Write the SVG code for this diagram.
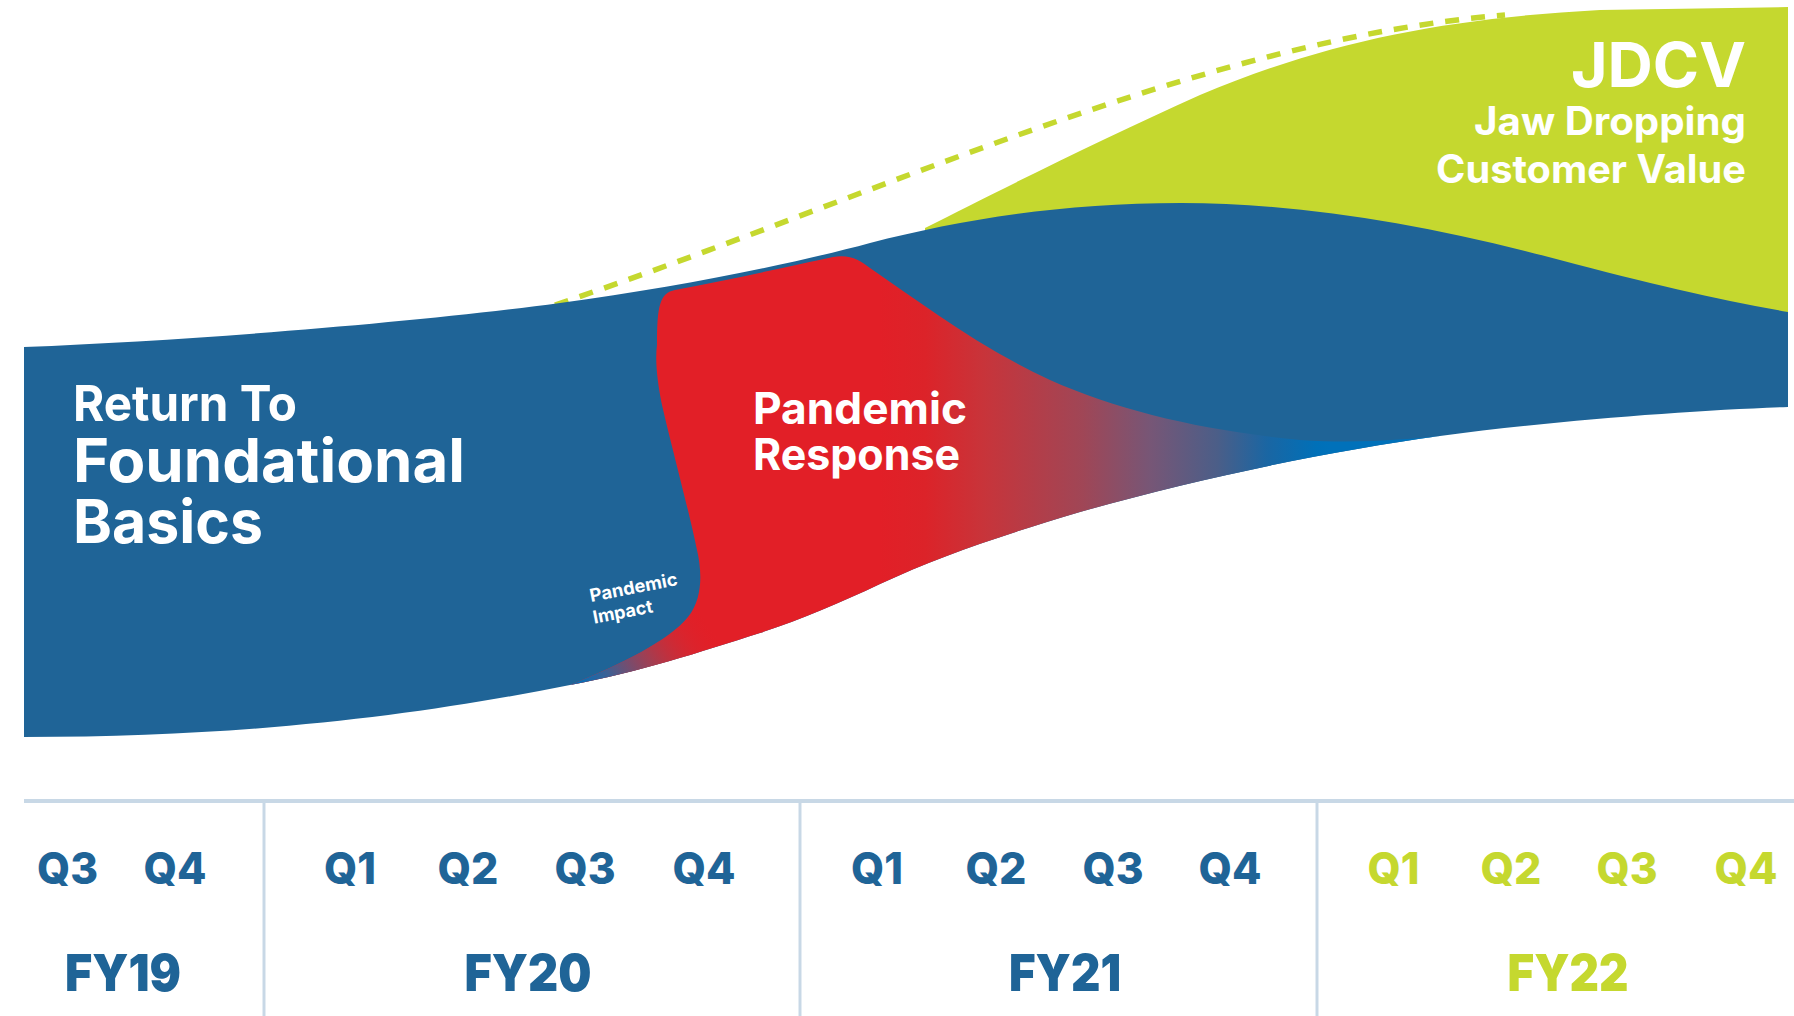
<svg xmlns="http://www.w3.org/2000/svg" width="1794" height="1016" viewBox="0 0 1794 1016">
  <defs>
    <style>
      .lbl { font-family: Inter, "Liberation Sans", sans-serif; fill: #ffffff; font-weight: 700; }
      .q { font-family: Inter, "Liberation Sans", sans-serif; font-weight: 800; font-size: 44px; text-anchor: middle; }
      .fy { font-family: Inter, "Liberation Sans", sans-serif; font-weight: 900; font-size: 51px; text-anchor: middle; }
      .blueTxt { fill: #1f6497; }
      .greenTxt { fill: #c5d82f; }
      .axis { stroke: #c8d8e6; fill: none; }
    </style>
    <!-- red response wave fading into the blue band -->
    <linearGradient id="respGrad" gradientUnits="userSpaceOnUse" x1="880" y1="0" x2="1330" y2="0">
      <stop offset="0" stop-color="#e21f27"/>
      <stop offset="0.1" stop-color="#dc2329"/>
      <stop offset="0.23" stop-color="#c8343a"/>
      <stop offset="0.45" stop-color="#a04656"/>
      <stop offset="0.6" stop-color="#775676"/>
      <stop offset="0.75" stop-color="#4b5e88"/>
      <stop offset="0.86" stop-color="#1a66a3"/>
      <stop offset="0.97" stop-color="#0070b8"/>
      <stop offset="1" stop-color="#0071ba"/>
    </linearGradient>
    <!-- soft blend at the lower-left tip of the red wave -->
    <linearGradient id="impactFade" gradientUnits="userSpaceOnUse" x1="585" y1="690" x2="705" y2="615">
      <stop offset="0" stop-color="#0a6db3" stop-opacity="1"/>
      <stop offset="0.2" stop-color="#3d6094" stop-opacity="1"/>
      <stop offset="0.5" stop-color="#8c4860" stop-opacity="0.75"/>
      <stop offset="0.8" stop-color="#c8303a" stop-opacity="0.3"/>
      <stop offset="1" stop-color="#e21e26" stop-opacity="0"/>
    </linearGradient>
  </defs>

  <rect width="1794" height="1016" fill="#ffffff"/>

  <!-- green JDCV wave (lower part is covered by the blue band) -->
  <g id="jdcv">
    <path fill="#c5d82f" d="M 925,228 C 1000,190 1100,140 1200,95 C 1330,40 1450,18 1600,10 L 1788,7 L 1788,330 L 1300,240 L 925,240 Z"/>
  </g>

  <!-- dashed growth trajectory -->
  <g id="connectors">
    <path d="M 555,305 C 880,195 1200,40 1505,15" fill="none" stroke="#c5d82f" stroke-width="5.5" stroke-dasharray="14 12"/>
  </g>

  <!-- blue foundational basics band -->
  <g id="foundational">
    <path fill="#1f6497" d="M 24,347 C 200,340 420,322 560,303 C 680,287 800,262 870,243 C 960,220 1060,203 1181,203 C 1300,203 1430,225 1560,260 C 1650,284 1720,300 1788,312 L 1788,407 C 1700,410 1560,420 1440,436 C 1330,451 1200,478 1080,512 C 1000,536 940,556 880,584 C 840,603 800,620 760,633 C 700,652 640,672 570,685 C 420,715 250,737 24,737 Z"/>
    <text class="lbl" x="73" y="421" font-size="50" textLength="224" lengthAdjust="spacingAndGlyphs">Return To</text>
    <text class="lbl" x="73" y="482" font-size="60" textLength="392" lengthAdjust="spacingAndGlyphs">Foundational</text>
    <text class="lbl" x="73" y="543" font-size="60" textLength="190" lengthAdjust="spacingAndGlyphs">Basics</text>
  </g>

  <!-- red pandemic response wave -->
  <g id="pandemic-response">
    <path fill="url(#respGrad)" d="M 657,345 C 657,305 660,293 675,290 C 730,280 790,266 833,257 C 850,254 860,260 870,268 C 920,302 980,348 1050,380 C 1120,411 1200,430 1300,440 C 1360,444 1410,439 1440,436 C 1330,451 1200,478 1080,512 C 1000,536 940,556 880,584 C 840,603 800,620 760,633 C 700,652 640,672 570,685 C 620,665 670,640 688,617 C 703,598 702,572 697,550 C 690,515 670,440 662,405 C 657,380 655,360 657,345 Z"/>
    <path fill="url(#impactFade)" d="M 699,575 C 700,595 697,608 688,617 C 670,640 620,665 570,685 C 640,672 700,652 760,633 Z"/>
    <text class="lbl" x="753" y="424" font-size="44" textLength="214" lengthAdjust="spacingAndGlyphs">Pandemic</text>
    <text class="lbl" x="753" y="470" font-size="44" textLength="207" lengthAdjust="spacingAndGlyphs">Response</text>
  </g>

  <!-- small rotated note at the start of the red wave -->
  <g id="pandemic-impact">
    <text class="lbl" font-size="18" font-weight="600" transform="translate(591,602) rotate(-11)">
      <tspan x="0" y="0" textLength="89" lengthAdjust="spacingAndGlyphs">Pandemic</tspan>
      <tspan x="-1" y="22">Impact</tspan>
    </text>
  </g>

  <!-- JDCV heading -->
  <g id="jdcv-label">
    <text class="lbl" x="1746" y="87" font-size="62" font-weight="800" text-anchor="end" textLength="175" lengthAdjust="spacingAndGlyphs">JDCV</text>
    <text class="lbl" x="1746" y="135" font-size="39" text-anchor="end" textLength="272" lengthAdjust="spacingAndGlyphs">Jaw Dropping</text>
    <text class="lbl" x="1746" y="183" font-size="39" text-anchor="end" textLength="310" lengthAdjust="spacingAndGlyphs">Customer Value</text>
  </g>

  <!-- fiscal timeline -->
  <g id="timeline">
    <line class="axis" x1="24" y1="801" x2="1794" y2="801" stroke-width="4"/>
    <line class="axis" x1="264" y1="803" x2="264" y2="1016" stroke-width="3"/>
    <line class="axis" x1="800" y1="803" x2="800" y2="1016" stroke-width="3"/>
    <line class="axis" x1="1317" y1="803" x2="1317" y2="1016" stroke-width="3"/>

    <g id="fy19" class="blueTxt">
      <text class="q" x="67.5" y="884" textLength="61" lengthAdjust="spacingAndGlyphs">Q3</text>
      <text class="q" x="175" y="884" textLength="63" lengthAdjust="spacingAndGlyphs">Q4</text>
      <text class="fy" x="123" y="991" textLength="116" lengthAdjust="spacingAndGlyphs">FY19</text>
    </g>
    <g id="fy20" class="blueTxt">
      <text class="q" x="350" y="884" textLength="52" lengthAdjust="spacingAndGlyphs">Q1</text>
      <text class="q" x="468" y="884" textLength="61" lengthAdjust="spacingAndGlyphs">Q2</text>
      <text class="q" x="585" y="884" textLength="61" lengthAdjust="spacingAndGlyphs">Q3</text>
      <text class="q" x="704" y="884" textLength="63" lengthAdjust="spacingAndGlyphs">Q4</text>
      <text class="fy" x="528" y="991" textLength="127" lengthAdjust="spacingAndGlyphs">FY20</text>
    </g>
    <g id="fy21" class="blueTxt">
      <text class="q" x="877" y="884" textLength="52" lengthAdjust="spacingAndGlyphs">Q1</text>
      <text class="q" x="996" y="884" textLength="61" lengthAdjust="spacingAndGlyphs">Q2</text>
      <text class="q" x="1113" y="884" textLength="61" lengthAdjust="spacingAndGlyphs">Q3</text>
      <text class="q" x="1230" y="884" textLength="63" lengthAdjust="spacingAndGlyphs">Q4</text>
      <text class="fy" x="1065" y="991" textLength="112" lengthAdjust="spacingAndGlyphs">FY21</text>
    </g>
    <g id="fy22" class="greenTxt">
      <text class="q" x="1393.5" y="884" textLength="52" lengthAdjust="spacingAndGlyphs">Q1</text>
      <text class="q" x="1511" y="884" textLength="61" lengthAdjust="spacingAndGlyphs">Q2</text>
      <text class="q" x="1627" y="884" textLength="61" lengthAdjust="spacingAndGlyphs">Q3</text>
      <text class="q" x="1746" y="884" textLength="63" lengthAdjust="spacingAndGlyphs">Q4</text>
      <text class="fy" x="1568" y="991" textLength="121" lengthAdjust="spacingAndGlyphs">FY22</text>
    </g>
  </g>
</svg>
